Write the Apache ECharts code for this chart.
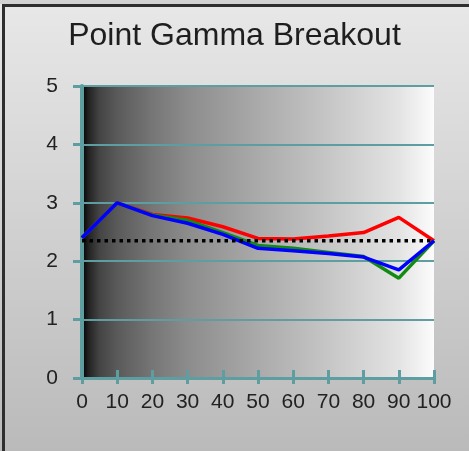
<!DOCTYPE html>
<html>
<head>
<meta charset="utf-8">
<script src="https://cdn.jsdelivr.net/npm/echarts@6/dist/echarts.min.js"></script>
<style>
  html, body { margin: 0; padding: 0; }
  #chart { width: 469px; height: 451px; }
</style>
</head>
<body>
<div id="chart"></div>
<script>
// stimulus levels (% of white) and measured point gamma per channel
const levels = [0, 10, 20, 30, 40, 50, 60, 70, 80, 90, 100];
const redGamma = [2.40, 3.00, 2.80, 2.74, 2.59, 2.39, 2.38, 2.43, 2.49, 2.75, 2.35];
const greenGamma = [2.40, 3.00, 2.79, 2.70, 2.49, 2.27, 2.22, 2.15, 2.08, 1.71, 2.35];
const blueGamma = [2.40, 3.00, 2.78, 2.65, 2.46, 2.22, 2.18, 2.13, 2.07, 1.85, 2.35];
const targetGamma = [2.35, 2.35, 2.35, 2.35, 2.35, 2.35, 2.35, 2.35, 2.35, 2.35, 2.35];
const yTicks = [0, 1, 2, 3, 4, 5];

const pairs = (ys) => levels.map((x, i) => [x, ys[i]]);
const axisColor = '#5f9ea0';
const font = '"Liberation Sans", Arial, sans-serif';

const chart = echarts.init(document.getElementById('chart'));

const lineSeries = (name, data, color) => ({
  name,
  type: 'line',
  data: pairs(data),
  symbol: 'none',
  lineStyle: { color, width: 3.5 }
});

const option = {
  animation: false,
  graphic: [
    {
      type: 'rect', z: -10, silent: true,
      shape: { x: 0, y: 0, width: 469, height: 451 },
      style: {
        fill: new echarts.graphic.LinearGradient(0, 0, 0, 1, [
          { offset: 0, color: '#e8e8e8' },
          { offset: 1, color: '#bababa' }
        ])
      }
    },
    { type: 'rect', z: -9, silent: true, shape: { x: 0, y: 0, width: 469, height: 4 }, style: { fill: '#d2d2d2' } },
    { type: 'rect', z: -9, silent: true, shape: { x: 2, y: 4, width: 467, height: 3 }, style: { fill: '#2e2e2e' } },
    { type: 'rect', z: -9, silent: true, shape: { x: 2, y: 4, width: 3, height: 447 }, style: { fill: '#2e2e2e' } }
  ],
  title: {
    text: 'Point Gamma Breakout',
    left: 'center',
    top: 15,
    textStyle: { fontFamily: font, fontSize: 32, fontWeight: 'normal', color: '#1e1e1e' }
  },
  grid: {
    left: 82, right: 35, top: 86, bottom: 73,
    show: true,
    borderWidth: 0,
    backgroundColor: new echarts.graphic.LinearGradient(0, 0, 1, 0, [
      { offset: 0, color: '#000000' },
      { offset: 0.02, color: '#242424' },
      { offset: 0.05, color: '#444444' },
      { offset: 0.1, color: '#5a5a5a' },
      { offset: 0.2, color: '#767676' },
      { offset: 0.3, color: '#8c8c8c' },
      { offset: 0.5, color: '#aaaaaa' },
      { offset: 0.7, color: '#c6c6c6' },
      { offset: 0.9, color: '#e3e3e3' },
      { offset: 1, color: '#fcfcfc' }
    ])
  },
  xAxis: [
    {
      type: 'value', min: 0, max: 100, interval: 10,
      axisLine: { lineStyle: { color: axisColor, width: 3 } },
      axisTick: { show: true, length: 6, lineStyle: { color: axisColor, width: 3 } },
      axisLabel: { fontFamily: font, fontSize: 21, color: '#222', margin: 14 },
      splitLine: { show: false }
    },
    {
      type: 'value', min: 0, max: 100, interval: 10, position: 'bottom',
      axisLine: { show: false },
      axisTick: { show: true, inside: true, length: 8, lineStyle: { color: axisColor, width: 3 } },
      axisLabel: { show: false },
      splitLine: { show: false }
    }
  ],
  yAxis: {
    type: 'value', min: yTicks[0], max: yTicks[yTicks.length - 1], interval: 1,
    axisLine: { show: true, lineStyle: { color: axisColor, width: 4 } },
    axisTick: { show: true, length: 9, lineStyle: { color: axisColor, width: 3 } },
    axisLabel: { fontFamily: font, fontSize: 21, color: '#222', margin: 24 },
    splitLine: { show: true, lineStyle: { color: axisColor, width: 2 } }
  },
  series: [
    lineSeries('Red', redGamma, '#ff0000'),
    lineSeries('Green', greenGamma, '#138a13'),
    lineSeries('Blue', blueGamma, '#0000ff'),
    {
      name: 'Target',
      type: 'line',
      data: pairs(targetGamma),
      symbol: 'none',
      lineStyle: { color: '#000', width: 3.5, type: [3.5, 4] },
      z: 5
    }
  ]
};

chart.setOption(option);
</script>
</body>
</html>
